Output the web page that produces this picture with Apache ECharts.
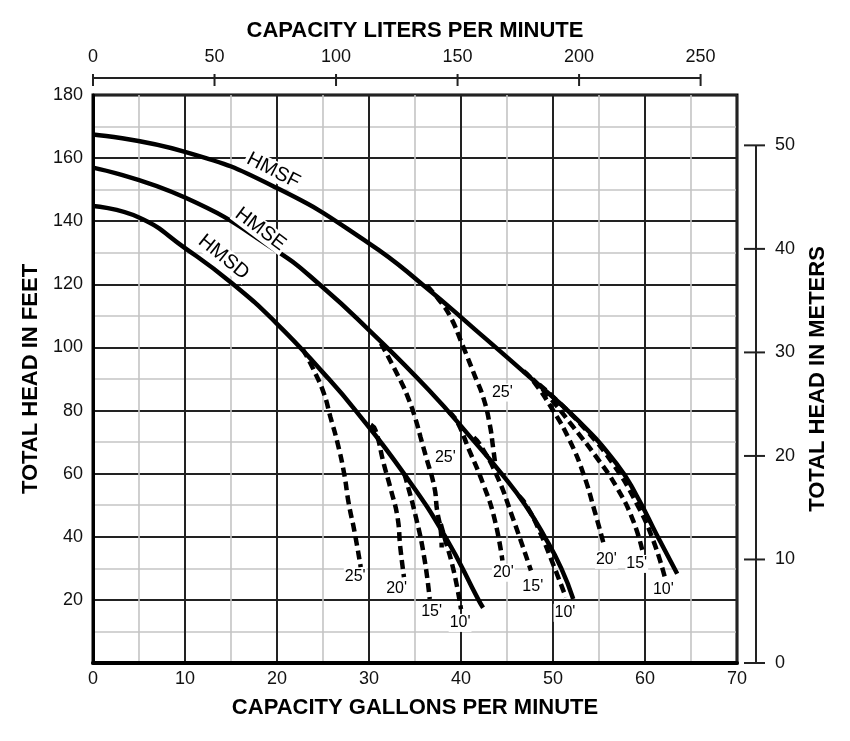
<!DOCTYPE html>
<html>
<head>
<meta charset="utf-8">
<title>Pump curves</title>
<script src="https://cdn.jsdelivr.net/npm/echarts@6/dist/echarts.min.js"></script>
<style>
  html, body { margin: 0; padding: 0; background: #fff; }
  #chart { width: 850px; height: 741px; }
</style>
</head>
<body>
<div id="chart"></div>
<script>
// 泵性能曲线：流量 (gpm) / 扬程 (ft)
var lpmTicks = [0, 50, 100, 150, 200, 250];
var meterTicks = [0, 10, 20, 30, 40, 50];

// 主曲线 [gpm, ft]
var hmsf = [[0,167.5],[10,162],[20,150.5],[30,133],[36,119.5],[41.6,105.5],[47.5,90.5],[52.6,77.2],[56.9,63.2],[59.1,53],[61.3,40.5],[63.5,28.3]];
var hmse = [[0,157],[10,147.5],[20,130.5],[25,119],[30,105.5],[36.5,86.5],[41.5,70],[44.4,60],[47,50],[49.1,40],[50.9,30],[52.2,20.3]];
var hmsd = [[0,144.8],[5,141.2],[10,131.5],[15,120.6],[20,107.5],[25.1,91.7],[28.55,80],[33.8,60],[38.3,40],[41.9,20],[42.4,17.5]];

// 虚线（不同深度）
var hmsf25 = [[36.3,119.5],[37.5,115.5],[38.8,110],[40.2,100.5],[41.5,91],[42.4,84.3],[43.1,76],[43.5,68],[43.7,63.5]];
var hmsf20 = [[46.8,92.5],[47.8,89.6],[50,80.1],[51.8,70.6],[53.3,60],[54.5,48.4],[55.6,36.7]];
var hmsf15 = [[47.8,90],[49.6,84.3],[52.2,74.8],[54.7,65.3],[56.9,55.8],[58.7,45.2],[59.8,34.6]];
var hmsf10 = [[48.5,88.3],[50.4,83.3],[53.6,73.8],[56.5,63.2],[59.1,50.5],[60.9,38.8],[62.2,26.7]];
var hmse25 = [[31.3,101.3],[33.4,89.6],[34.35,83.3],[35.1,76.9],[35.6,71.6],[36.2,65.3],[37.1,55.8],[37.4,48.4],[37.8,42],[37.9,36.6]];
var hmse20 = [[38.7,79.5],[39.5,76.9],[40.9,67.4],[42.4,56.8],[43.6,46.2],[44.5,32.5]];
var hmse15 = [[41.4,71.5],[42,69.5],[43.8,60],[45.6,46.2],[47.6,29.3]];
var hmse10 = [[46.3,53],[47.1,50],[48.5,42],[50,31.4],[51.4,20.8]];
var hmsd25 = [[22.8,99.5],[24,92.8],[25.1,85.4],[25.8,78],[26.6,69.5],[27.3,60],[27.8,50.5],[28.4,42],[29.1,30.4]];
var hmsd20 = [[30.2,75.5],[30.7,73.8],[31.6,63.2],[32.4,54.7],[33.1,46.2],[33.4,36.7],[33.8,27.2]];
var hmsd15 = [[33.8,60],[34,58.4],[35.1,46.2],[36,33.5],[36.6,20.3]];
var hmsd10 = [[37.8,44.1],[38.2,39.9],[39.2,29.3],[40,17.1]];

// 曲线名称与深度标注
var curveNames = ['HMSF', 'HMSE', 'HMSD'];
var curveNameAt = [[19.6,156], [18.2,137.5], [14.2,128.6]];
var depthNames = ["25'", "20'", "15'", "10'", "25'", "20'", "15'", "10'", "25'", "20'", "15'", "10'"];
var depthAt = [[28.5,27.3],[33.0,23.5],[36.8,16.2],[39.9,12.7],
               [38.3,65.1],[44.6,28.6],[47.8,24.1],[51.3,15.9],
               [44.5,85.7],[55.8,32.7],[59.1,31.4],[62.0,23.2]];

var GPM_TO_LPM = 3.78541;
var FT_TO_M = 0.3048;

var chart = echarts.init(document.getElementById('chart'));
var font = 'Liberation Sans, Arial, Helvetica, sans-serif';
var gridLeft = 93, gridTop = 95, gridRight = 113, gridBottom = 78;

function solid(data) {
  return { type: 'line', data: data, smooth: 0.5, symbol: 'none', z: 5,
           lineStyle: { color: '#000', width: 4.5 } };
}
function dashed(data) {
  return { type: 'line', data: data, smooth: 0.5, symbol: 'none', z: 4,
           lineStyle: { color: '#000', width: 4.5, type: [9, 5] } };
}

var nameRotate = [-27, -37, -39];
var series = [
  solid(hmsf), solid(hmse), solid(hmsd),
  dashed(hmsf25), dashed(hmsf20), dashed(hmsf15), dashed(hmsf10),
  dashed(hmse25), dashed(hmse20), dashed(hmse15), dashed(hmse10),
  dashed(hmsd25), dashed(hmsd20), dashed(hmsd15), dashed(hmsd10),
  {
    type: 'scatter', symbolSize: 0, z: 10, itemStyle: { opacity: 1 },
    data: curveNames.map(function (n, i) {
      return { name: n, value: curveNameAt[i], label: { rotate: nameRotate[i] } };
    }),
    label: { show: true, position: 'inside', formatter: '{b}', color: '#000', opacity: 1,
             fontFamily: font, fontSize: 20, backgroundColor: '#fff', padding: [0, 2] }
  },
  {
    type: 'scatter', symbolSize: 0, z: 10, itemStyle: { opacity: 1 },
    data: depthNames.map(function (n, i) { return { name: n, value: depthAt[i] }; }),
    label: { show: true, position: 'inside', formatter: '{b}', color: '#000', opacity: 1,
             fontFamily: font, fontSize: 16, backgroundColor: '#fff', padding: [1, 1] }
  }
];

var option = {
  animation: false,
  grid: { left: gridLeft, top: gridTop, right: gridRight, bottom: gridBottom,
          show: true, borderColor: '#000', borderWidth: 3, backgroundColor: '#fff' },
  xAxis: [{
    type: 'value', min: 0, max: 70, interval: 10, position: 'bottom',
    name: 'CAPACITY GALLONS PER MINUTE', nameLocation: 'middle', nameGap: 34,
    nameTextStyle: { fontFamily: font, fontSize: 22, fontWeight: 'bold', color: '#000' },
    axisLine: { show: true, lineStyle: { color: '#000', width: 4 } },
    axisTick: { show: false },
    axisLabel: { margin: 7, fontFamily: font, fontSize: 18, color: '#111' },
    splitLine: { show: true, lineStyle: { color: '#222', width: 2 } },
    minorTick: { show: false, splitNumber: 2 },
    minorSplitLine: { show: true, lineStyle: { color: '#c4c4c4', width: 1.6 } }
  }, {
    type: 'value', min: 0, max: 70 * GPM_TO_LPM, position: 'top', offset: 21,
    name: 'CAPACITY LITERS PER MINUTE', nameLocation: 'middle', nameGap: 32,
    nameTextStyle: { fontFamily: font, fontSize: 22, fontWeight: 'bold', color: '#000' },
    axisLine: { show: false },
    axisTick: { show: false },
    axisLabel: { margin: 8, fontFamily: font, fontSize: 18, color: '#111', customValues: lpmTicks },
    splitLine: { show: false }
  }],
  yAxis: [{
    type: 'value', min: 0, max: 180, interval: 20, position: 'left',
    name: 'TOTAL HEAD IN FEET', nameLocation: 'middle', nameGap: 43,
    nameTextStyle: { fontFamily: font, fontSize: 22, fontWeight: 'bold', color: '#000' },
    axisLine: { show: true, lineStyle: { color: '#000', width: 3 } },
    axisTick: { show: false },
    axisLabel: { margin: 10, fontFamily: font, fontSize: 18, color: '#111',
                 formatter: function (v) { return v === 0 ? '' : v; } },
    splitLine: { show: true, lineStyle: { color: '#222', width: 2 } },
    minorTick: { show: false, splitNumber: 2 },
    minorSplitLine: { show: true, lineStyle: { color: '#c4c4c4', width: 1.6 } }
  }, {
    type: 'value', min: 0, max: 180 * FT_TO_M, position: 'right', offset: 7,
    name: 'TOTAL HEAD IN METERS', nameLocation: 'middle', nameGap: 63,
    nameTextStyle: { fontFamily: font, fontSize: 22, fontWeight: 'bold', color: '#000' },
    axisLine: { show: false },
    axisTick: { show: false },
    axisLabel: { margin: 31, fontFamily: font, fontSize: 18, color: '#111', customValues: meterTicks },
    splitLine: { show: false }
  }],
  series: series
};

chart.setOption(option);

// 顶部和右侧轴线及刻度，只画到最后一个刻度
var topY = gridTop - 17;
var rightX = 850 - gridRight + 19;
var tickStyle = { stroke: '#222', lineWidth: 2 };
var graphics = [];
var lx0 = chart.convertToPixel({ xAxisIndex: 1 }, lpmTicks[0]);
var lx1 = chart.convertToPixel({ xAxisIndex: 1 }, lpmTicks[lpmTicks.length - 1]);
graphics.push({ type: 'line', z: 100, shape: { x1: lx0, y1: topY, x2: lx1, y2: topY }, style: tickStyle });
lpmTicks.forEach(function (v) {
  var x = chart.convertToPixel({ xAxisIndex: 1 }, v);
  graphics.push({ type: 'line', z: 100, shape: { x1: x, y1: topY - 4, x2: x, y2: topY + 8 }, style: tickStyle });
});
var my0 = chart.convertToPixel({ yAxisIndex: 1 }, meterTicks[0]);
var my1 = chart.convertToPixel({ yAxisIndex: 1 }, meterTicks[meterTicks.length - 1]);
graphics.push({ type: 'line', z: 100, shape: { x1: rightX, y1: my0, x2: rightX, y2: my1 }, style: tickStyle });
meterTicks.forEach(function (v) {
  var y = chart.convertToPixel({ yAxisIndex: 1 }, v);
  graphics.push({ type: 'line', z: 100, shape: { x1: rightX - 12, y1: y, x2: rightX + 9, y2: y }, style: tickStyle });
});
chart.setOption({ graphic: graphics });
</script>
</body>
</html>
